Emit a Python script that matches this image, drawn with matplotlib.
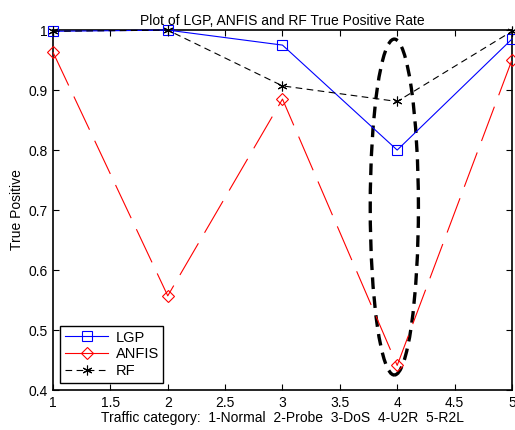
import matplotlib
matplotlib.use("Agg")
import matplotlib.pyplot as plt
from matplotlib.patches import Ellipse

plt.rcParams['font.family'] = ['Liberation Sans', 'DejaVu Sans']

categories = [1, 2, 3, 4, 5]
lgp = [0.998, 1.0, 0.975, 0.800, 0.985]
anfis = [0.963, 0.557, 0.885, 0.441, 0.950]
rf = [0.998, 1.0, 0.907, 0.881, 0.998]
xticks = [1, 1.5, 2, 2.5, 3, 3.5, 4, 4.5, 5]
xticklabels = ['1', '1.5', '2', '2.5', '3', '3.5', '4', '4.5', '5']
yticks = [0.4, 0.5, 0.6, 0.7, 0.8, 0.9, 1.0]
yticklabels = ['0.4', '0.5', '0.6', '0.7', '0.8', '0.9', '1']

fig = plt.figure(figsize=(5.15, 4.30), dpi=100)
ax = fig.add_axes([0.103, 0.093, 0.891, 0.837])

l1, = ax.plot(categories, lgp, color='#0000ff', lw=0.8, marker='s', ms=7,
              mfc='none', mec='#0000ff', mew=0.8, label='LGP', clip_on=False, zorder=4)
l2, = ax.plot(categories, anfis, color='#ff0000', lw=0.8, marker='D', ms=6,
              mfc='none', mec='#ff0000', mew=0.8, label='ANFIS', clip_on=False, zorder=4)
l2.set_dashes([33, 11])
l3, = ax.plot(categories, rf, color='black', lw=0.8, marker=(6, 2, 0), ms=7,
              mfc='none', mec='black', mew=0.8, ls=(0, (6, 4)), label='RF',
              clip_on=False, zorder=4)

ell = Ellipse((3.975, 0.705), 0.42, 0.56, fill=False, edgecolor='black',
              lw=2.4, ls=(0, (3.5, 2.2)))
ax.add_patch(ell)

ax.set_xlim(1, 5)
ax.set_ylim(0.4, 1.0)
ax.set_xticks(xticks)
ax.set_xticklabels(xticklabels)
ax.set_yticks(yticks)
ax.set_yticklabels(yticklabels)
ax.tick_params(direction='in', top=True, right=True, labelsize=10, length=4, width=0.8, pad=4)
for s in ax.spines.values():
    s.set_linewidth(1.2)

ax.set_title('Plot of LGP, ANFIS and RF True Positive Rate', fontsize=10, pad=4)
ax.set_xlabel('Traffic category:  1-Normal  2-Probe  3-DoS  4-U2R  5-R2L', fontsize=10, labelpad=1)
ax.set_ylabel('True Positive', fontsize=10, labelpad=3)

h2 = plt.Line2D([], [], color='#ff0000', lw=0.8, marker='D', ms=6, mfc='none', mec='#ff0000', mew=0.8)
leg = ax.legend([l1, h2, l3], ['LGP', 'ANFIS', 'RF'], loc='lower left', fontsize=10.5,
                fancybox=False, edgecolor='black', framealpha=1, handlelength=3,
                borderaxespad=0.5, labelspacing=0.2, handletextpad=0.5, borderpad=0.3)
leg.get_frame().set_linewidth(1.0)
leg.set_zorder(5)

fig.savefig('out.png', dpi=100)
